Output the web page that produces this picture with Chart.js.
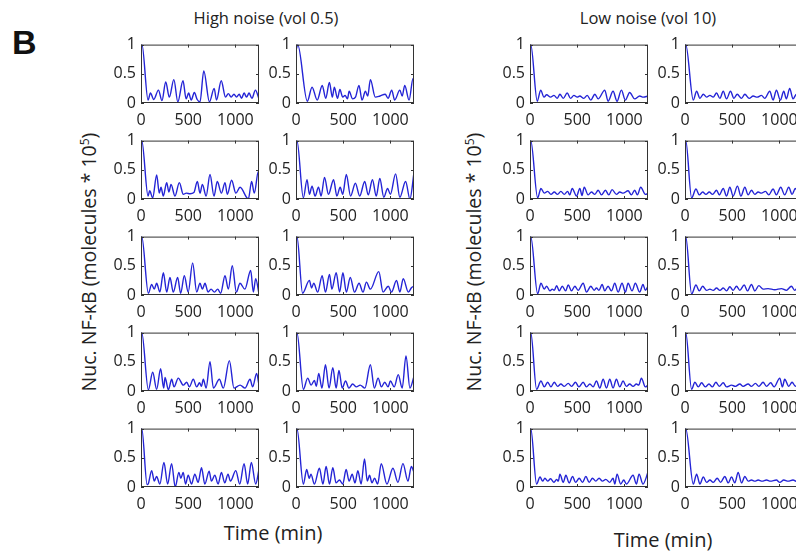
<!DOCTYPE html>
<html><head><meta charset="utf-8">
<script src="https://cdn.jsdelivr.net/npm/chart.js@4.4.0/dist/chart.umd.min.js"></script>
<style>
html,body{margin:0;padding:0;background:#fff;overflow:hidden;width:796px;height:552px;}
#wrap{position:relative;width:796px;height:552px;overflow:hidden;font-family:'Open Sans',sans-serif;color:#222;}
canvas{position:absolute;}
.t{position:absolute;white-space:nowrap;line-height:1;transform:translate(-50%,-50%);}
.rot{transform:translate(-50%,-50%) rotate(-90deg);}
</style></head><body><div id="wrap">
<div class="t" style="left:266px;top:18px;font-size:16.5px;">High noise (vol 0.5)</div>
<div class="t" style="left:648px;top:18px;font-size:16.5px;">Low noise (vol 10)</div>
<div style="position:absolute;left:12px;top:25px;font:bold 34px 'Liberation Sans',Arial,sans-serif;line-height:34px;color:#111;">B</div>
<div class="t rot" style="left:89px;top:262px;font-size:19.5px;">Nuc. NF-κB (molecules * 10<sup style="font-size:12px;vertical-align:7px;">5</sup>)</div>
<div class="t rot" style="left:474px;top:262px;font-size:19.5px;">Nuc. NF-κB (molecules * 10<sup style="font-size:12px;vertical-align:7px;">5</sup>)</div>
<div class="t" style="left:273px;top:533px;font-size:20px;">Time (min)</div>
<div class="t" style="left:663px;top:540px;font-size:20px;">Time (min)</div>
</div>
<script>
// ---- axis ticks ----
const X_TICKS = [0, 500, 1000];
const Y_TICKS = [0, 0.5, 1];
const X_MAX = 1250;

// ---- High noise (vol 0.5) series: [time (min), value] ----
const HN_R1C1 = [[0,0.93],[10,1.0],[75,0.05],[100,0.17],[135,0.06],[185,0.22],[222,0.04],[262,0.36],[300,0.1],[348,0.4],[390,0.02],[445,0.38],[478,0.07],[505,0.17],[532,0.05],[565,0.18],[595,0.06],[625,0.02],[665,0.55],[725,0.02],[775,0.25],[800,0.05],[850,0.38],[895,0.1],[925,0.16],[955,0.1],[985,0.15],[1012,0.1],[1040,0.15],[1065,0.08],[1092,0.17],[1118,0.1],[1145,0.17],[1175,0.08],[1212,0.22],[1250,0.07]];
const HN_R1C2 = [[0,0.9],[18,1.0],[120,0.03],[170,0.27],[225,0.05],[278,0.3],[315,0.08],[354,0.35],[385,0.1],[406,0.27],[440,0.08],[465,0.23],[495,0.1],[520,0.13],[545,0.07],[563,0.2],[600,0.07],[630,0.1],[667,0.3],[700,0.05],[735,0.2],[760,0.12],[788,0.4],[840,0.1],[890,0.12],[945,0.15],[975,0.08],[1014,0.22],[1045,0.05],[1100,0.22],[1125,0.12],[1152,0.3],[1198,0.05],[1240,0.42],[1250,0.38]];
const HN_R2C1 = [[0,0.93],[8,1.0],[75,0.05],[92,0.14],[124,0.02],[166,0.41],[194,0.1],[212,0.2],[236,0.05],[272,0.28],[296,0.12],[318,0.25],[360,0.05],[406,0.28],[448,0.08],[480,0.1],[520,0.09],[560,0.11],[597,0.3],[625,0.1],[650,0.25],[690,0.05],[731,0.42],[773,0.05],[808,0.3],[852,0.1],[890,0.28],[914,0.08],[960,0.32],[1005,0.1],[1049,0.2],[1137,0.0],[1172,0.3],[1200,0.1],[1243,0.47],[1250,0.42]];
const HN_R2C2 = [[0,0.92],[10,1.0],[78,0.02],[117,0.33],[142,0.08],[170,0.22],[202,0.05],[238,0.2],[266,0.05],[302,0.37],[344,0.08],[398,0.33],[433,0.05],[468,0.2],[495,0.08],[533,0.42],[578,0.05],[629,0.27],[675,0.05],[728,0.3],[765,0.07],[810,0.33],[850,0.05],[888,0.35],[930,0.03],[970,0.18],[1000,0.08],[1055,0.43],[1100,0.03],[1161,0.3],[1207,0.0],[1250,0.45]];
const HN_R3C1 = [[0,0.93],[8,1.0],[78,0.03],[113,0.18],[140,0.1],[166,0.2],[200,0.05],[237,0.38],[272,0.05],[307,0.3],[342,0.05],[388,0.3],[420,0.03],[459,0.33],[500,0.05],[547,0.55],[590,0.05],[625,0.2],[650,0.1],[678,0.2],[710,0.05],[742,0.1],[778,0.05],[812,0.1],[844,0.03],[890,0.33],[925,0.1],[967,0.5],[1010,0.05],[1049,0.2],[1100,0.1],[1162,0.42],[1190,0.05],[1215,0.28],[1250,0.02]];
const HN_R3C2 = [[0,0.92],[10,1.0],[70,0.03],[142,0.25],[165,0.12],[188,0.2],[230,0.05],[277,0.33],[312,0.05],[355,0.35],[380,0.1],[426,0.38],[462,0.05],[497,0.38],[533,0.05],[575,0.3],[620,0.05],[668,0.2],[710,0.05],[746,0.22],[788,0.1],[877,0.4],[922,0.05],[977,0.15],[1012,0.05],[1065,0.25],[1100,0.05],[1136,0.28],[1190,0.05],[1225,0.13],[1250,0.15]];
const HN_R4C1 = [[0,0.93],[8,1.0],[78,0.02],[124,0.32],[166,0.03],[208,0.38],[240,0.05],[255,0.23],[290,0.02],[325,0.2],[350,0.07],[395,0.22],[448,0.1],[484,0.15],[512,0.07],[554,0.2],[590,0.07],[620,0.14],[640,0.08],[660,0.2],[690,0.05],[731,0.5],[767,0.05],[830,0.2],[872,0.05],[936,0.52],[985,0.05],[1050,0.1],[1102,0.05],[1155,0.2],[1183,0.07],[1225,0.3],[1250,0.1]];
const HN_R4C2 = [[0,0.92],[10,1.0],[78,0.03],[124,0.22],[160,0.1],[195,0.18],[215,0.08],[241,0.3],[275,0.05],[312,0.45],[350,0.05],[390,0.4],[425,0.05],[455,0.35],[490,0.05],[525,0.17],[560,0.05],[600,0.12],[640,0.07],[680,0.1],[730,0.05],[788,0.45],[830,0.05],[870,0.22],[905,0.07],[940,0.15],[975,0.07],[1000,0.17],[1040,0.07],[1083,0.28],[1125,0.05],[1165,0.6],[1207,0.05],[1250,0.25]];
const HN_R5C1 = [[0,0.93],[8,1.0],[65,0.04],[78,0.06],[113,0.28],[141,0.1],[165,0.18],[200,0.05],[243,0.42],[282,0.05],[324,0.4],[363,0.0],[401,0.25],[422,0.15],[447,0.25],[472,0.05],[500,0.2],[535,0.05],[570,0.22],[605,0.08],[641,0.33],[676,0.05],[722,0.27],[746,0.1],[782,0.2],[817,0.05],[852,0.25],[887,0.07],[922,0.22],[947,0.1],[1004,0.28],[1046,0.05],[1092,0.4],[1130,0.05],[1169,0.42],[1215,0.05],[1250,0.3]];
const HN_R5C2 = [[0,0.92],[10,1.0],[78,0.05],[113,0.3],[140,0.15],[158,0.22],[195,0.05],[248,0.32],[285,0.05],[319,0.35],[355,0.05],[390,0.33],[425,0.07],[460,0.12],[495,0.05],[531,0.3],[563,0.1],[595,0.22],[625,0.07],[655,0.28],[690,0.05],[726,0.48],[755,0.1],[779,0.2],[805,0.07],[832,0.15],[865,0.05],[903,0.4],[963,0.05],[1027,0.32],[1080,0.08],[1133,0.4],[1186,0.1],[1222,0.35],[1250,0.25]];

// ---- Low noise (vol 10) series: [time (min), value] ----
const LN_R1C3 = [[0,0.93],[8,1.0],[77,0.03],[113,0.22],[148,0.1],[176,0.14],[218,0.1],[254,0.13],[289,0.08],[317,0.15],[352,0.08],[394,0.17],[430,0.08],[465,0.13],[500,0.1],[528,0.12],[570,0.08],[606,0.13],[644,0.05],[687,0.15],[722,0.07],[792,0.22],[827,0.03],[880,0.2],[922,0.03],[968,0.22],[1010,0.05],[1056,0.18],[1109,0.07],[1162,0.12],[1200,0.1],[1250,0.12]];
const LN_R1C4 = [[0,0.93],[8,1.0],[88,0.05],[123,0.2],[158,0.08],[194,0.15],[229,0.1],[264,0.13],[299,0.1],[334,0.17],[370,0.08],[405,0.2],[440,0.07],[482,0.2],[518,0.08],[553,0.15],[599,0.08],[634,0.15],[680,0.08],[722,0.12],[764,0.1],[810,0.13],[845,0.08],[898,0.2],[933,0.05],[968,0.22],[1010,0.05],[1046,0.2],[1074,0.07],[1109,0.25],[1144,0.07],[1180,0.15],[1215,0.1],[1250,0.13]];
const LN_R2C3 = [[0,0.93],[8,1.0],[81,0.02],[116,0.18],[151,0.1],[187,0.13],[222,0.08],[257,0.12],[292,0.08],[327,0.13],[363,0.08],[398,0.13],[422,0.07],[447,0.18],[493,0.05],[528,0.18],[551,0.06],[574,0.2],[616,0.07],[651,0.12],[687,0.08],[722,0.15],[757,0.07],[799,0.15],[835,0.07],[870,0.16],[915,0.08],[951,0.12],[986,0.1],[1039,0.14],[1074,0.07],[1109,0.15],[1137,0.07],[1173,0.2],[1222,0.08],[1250,0.09]];
const LN_R2C4 = [[0,0.93],[8,1.0],[70,0.02],[116,0.17],[151,0.07],[187,0.12],[222,0.08],[257,0.12],[292,0.08],[334,0.15],[363,0.07],[405,0.18],[440,0.05],[475,0.2],[510,0.05],[556,0.22],[592,0.05],[634,0.2],[669,0.07],[704,0.15],[739,0.08],[775,0.12],[810,0.1],[852,0.13],[887,0.07],[933,0.17],[968,0.07],[1014,0.2],[1056,0.07],[1099,0.2],[1134,0.08],[1169,0.18],[1205,0.08],[1240,0.15],[1250,0.14]];
const LN_R3C3 = [[0,0.93],[8,1.0],[81,0.02],[116,0.2],[151,0.1],[176,0.15],[211,0.07],[236,0.1],[257,0.08],[282,0.16],[310,0.07],[342,0.15],[377,0.07],[405,0.17],[440,0.07],[475,0.15],[510,0.08],[563,0.2],[599,0.05],[644,0.15],[680,0.08],[704,0.12],[730,0.08],[764,0.18],[792,0.07],[827,0.15],[863,0.07],[898,0.2],[933,0.05],[975,0.2],[1011,0.05],[1039,0.2],[1081,0.07],[1116,0.2],[1162,0.05],[1197,0.18],[1222,0.08],[1250,0.15]];
const LN_R3C4 = [[0,0.93],[8,1.0],[70,0.02],[116,0.17],[151,0.07],[187,0.15],[229,0.08],[264,0.1],[299,0.08],[334,0.12],[370,0.08],[405,0.12],[440,0.07],[475,0.14],[510,0.08],[546,0.15],[581,0.08],[627,0.17],[662,0.07],[704,0.18],[740,0.07],[782,0.16],[827,0.1],[880,0.11],[951,0.09],[1021,0.11],[1074,0.08],[1127,0.15],[1162,0.08],[1200,0.14],[1235,0.08],[1250,0.1]];
const LN_R4C3 = [[0,0.93],[8,1.0],[70,0.03],[116,0.17],[151,0.07],[187,0.15],[222,0.07],[257,0.15],[292,0.08],[327,0.12],[363,0.08],[405,0.13],[440,0.08],[482,0.15],[518,0.07],[563,0.15],[599,0.07],[634,0.12],[669,0.07],[704,0.17],[739,0.05],[775,0.2],[810,0.05],[845,0.2],[880,0.05],[915,0.2],[951,0.07],[986,0.17],[1021,0.08],[1056,0.12],[1092,0.08],[1127,0.12],[1152,0.1],[1180,0.22],[1222,0.07],[1250,0.1]];
const LN_R4C4 = [[0,0.93],[8,1.0],[70,0.03],[105,0.15],[141,0.07],[176,0.14],[215,0.07],[254,0.12],[290,0.07],[327,0.15],[363,0.08],[405,0.14],[440,0.07],[493,0.1],[535,0.08],[581,0.12],[616,0.08],[669,0.12],[704,0.08],[746,0.13],[782,0.08],[827,0.15],[863,0.08],[908,0.14],[944,0.07],[1004,0.22],[1032,0.07],[1056,0.2],[1099,0.08],[1134,0.15],[1170,0.08],[1205,0.14],[1250,0.1]];
const LN_R5C3 = [[0,0.93],[8,1.0],[70,0.05],[106,0.17],[134,0.1],[158,0.15],[187,0.1],[218,0.14],[254,0.08],[282,0.13],[300,0.1],[317,0.22],[352,0.08],[380,0.2],[415,0.07],[451,0.18],[483,0.08],[521,0.15],[556,0.08],[592,0.18],[627,0.08],[662,0.15],[697,0.1],[732,0.15],[768,0.1],[803,0.13],[845,0.08],[880,0.15],[898,0.05],[922,0.22],[961,0.05],[993,0.12],[1021,0.05],[1092,0.2],[1127,0.05],[1155,0.22],[1197,0.05],[1250,0.25]];
const LN_R5C4 = [[0,0.93],[8,1.0],[88,0.05],[123,0.22],[158,0.05],[194,0.17],[229,0.08],[264,0.12],[299,0.08],[341,0.15],[377,0.08],[422,0.18],[458,0.07],[493,0.17],[528,0.07],[563,0.25],[599,0.07],[634,0.18],[669,0.1],[704,0.12],[740,0.1],[775,0.12],[817,0.1],[863,0.12],[905,0.1],[968,0.12],[1004,0.08],[1046,0.12],[1092,0.1],[1144,0.12],[1190,0.09],[1250,0.11]];

const PANELS = [
  [HN_R1C1, HN_R1C2, LN_R1C3, LN_R1C4],
  [HN_R2C1, HN_R2C2, LN_R2C3, LN_R2C4],
  [HN_R3C1, HN_R3C2, LN_R3C3, LN_R3C4],
  [HN_R4C1, HN_R4C2, LN_R4C3, LN_R4C4],
  [HN_R5C1, HN_R5C2, LN_R5C3, LN_R5C4]
];

// ---- layout ----
const COLS = [141, 296, 530, 685], ROWS = [40, 136, 232, 328, 424];
const PW = 118, PH = 63;
const PADL = 40, PADT = 10, PADR = 14, PADB = 34;
const LINE = '#2424d6';
const TICKFONT = {family: "'Open Sans', sans-serif", size: 16};

const framePlugin = {
  id: 'frame',
  afterDraw(ch) {
    const {ctx, chartArea: a, scales: {x, y}} = ch;
    ctx.save();
    ctx.strokeStyle = '#333';
    ctx.lineWidth = 1;
    ctx.strokeRect(a.left + 0.5, a.top + 0.5, a.right - a.left - 1, a.bottom - a.top - 1);
    ctx.beginPath();
    X_TICKS.forEach(v => {
      const px = Math.round(x.getPixelForValue(v)) + 0.5;
      ctx.moveTo(px, a.bottom); ctx.lineTo(px, a.bottom - 3);
      ctx.moveTo(px, a.top); ctx.lineTo(px, a.top + 3);
    });
    Y_TICKS.forEach(v => {
      const py = Math.round(y.getPixelForValue(v)) + 0.5;
      ctx.moveTo(a.left, py); ctx.lineTo(a.left + 3, py);
      ctx.moveTo(a.right, py); ctx.lineTo(a.right - 3, py);
    });
    ctx.stroke();
    ctx.restore();
  }
};

const wrap = document.getElementById('wrap');
function makePanel(series, left, top) {
  const c = document.createElement('canvas');
  const W = PADL + PW + PADR, H = PADT + PH + PADB;
  c.width = W; c.height = H;
  c.style.left = (left - PADL) + 'px'; c.style.top = (top - PADT) + 'px';
  c.style.width = W + 'px'; c.style.height = H + 'px';
  wrap.appendChild(c);
  new Chart(c, {
    type: 'line',
    data: {datasets: [{
      data: series.map(p => ({x: p[0], y: p[1]})),
      borderColor: LINE, borderWidth: 1.4, pointRadius: 0,
      cubicInterpolationMode: 'monotone', fill: false
    }]},
    options: {
      responsive: false, animation: false, events: [], devicePixelRatio: 1,
      layout: {padding: {left: 0, top: PADT, right: PADR, bottom: 0}},
      plugins: {legend: {display: false}, tooltip: {enabled: false}},
      scales: {
        x: {
          type: 'linear', min: 0, max: X_MAX,
          afterBuildTicks: s => { s.ticks = X_TICKS.map(v => ({value: v})); },
          afterFit: s => { s.height = PADB; },
          grid: {display: false, drawTicks: false}, border: {display: false},
          ticks: {padding: 8, font: TICKFONT, color: '#222', maxRotation: 0, autoSkip: false,
                  callback: v => String(v)}
        },
        y: {
          type: 'linear', min: 0, max: 1,
          afterBuildTicks: s => { s.ticks = Y_TICKS.map(v => ({value: v})); },
          afterFit: s => { s.width = PADL; },
          grid: {display: false, drawTicks: false}, border: {display: false},
          ticks: {padding: 5, font: TICKFONT, color: '#222', autoSkip: false,
                  callback: v => String(v)}
        }
      }
    },
    plugins: [framePlugin]
  });
}

PANELS.forEach((row, r) => row.forEach((s, ci) => makePanel(s, COLS[ci], ROWS[r])));
</script>
</body></html>
